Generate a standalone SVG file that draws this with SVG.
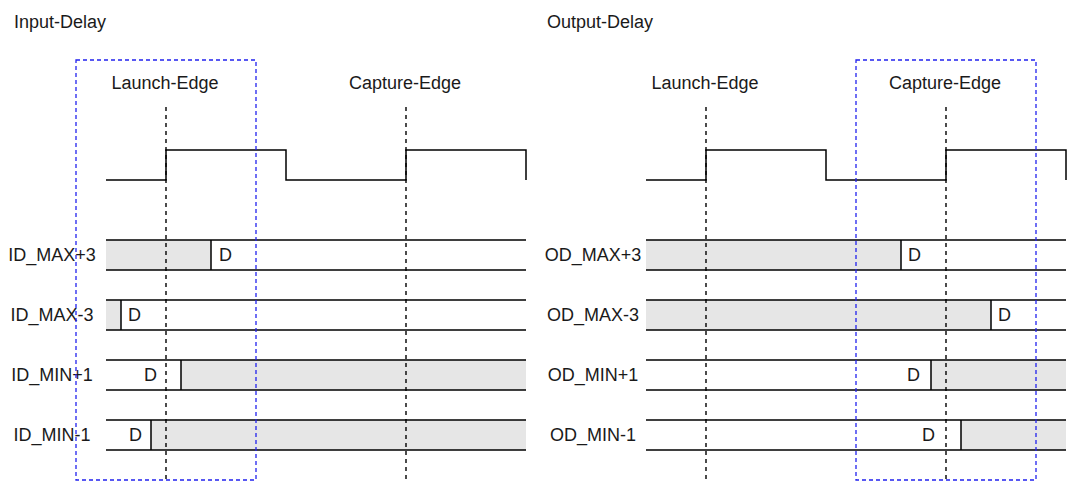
<svg xmlns="http://www.w3.org/2000/svg" width="1068" height="483" viewBox="0 0 1068 483">
<style>
text{font-family:"Liberation Sans",Arial,sans-serif;font-size:18px;fill:#1a1a1a}
.m{text-anchor:middle}
.clk{fill:none;stroke:#000;stroke-width:1.5}
.sig{stroke:#000;stroke-width:1.5}
.g{fill:#e6e6e6;stroke:none}
.edge{stroke:#000;stroke-width:1.4;stroke-dasharray:4 4;fill:none}
.win{fill:none;stroke:#2222ee;stroke-width:1.3;stroke-dasharray:4 3}
</style>
<rect width="1068" height="483" fill="#fff"/>
<g id="titles">
<text x="14" y="28">Input-Delay</text>
<text x="547" y="28">Output-Delay</text>
</g>
<g id="edge-labels">
<text class="m" x="165" y="89">Launch-Edge</text>
<text class="m" x="405" y="89">Capture-Edge</text>
<text class="m" x="705" y="89">Launch-Edge</text>
<text class="m" x="945" y="89">Capture-Edge</text>
</g>
<g id="clock-left"><path class="clk" d="M106 180H166V150H286V180H406V150H526V180"/></g>
<g id="clock-right"><path class="clk" d="M646 180H706V150H826V180H946V150H1066V180"/></g>
<g id="signals-left">
<g id="id-max-p3"><rect class="g" x="106" y="240" width="105" height="30"/><path class="sig" d="M106 240H526M106 270H526M211 240V270"/><text x="219" y="261">D</text><text class="m" x="52" y="261">ID_MAX+3</text></g>
<g id="id-max-m3"><rect class="g" x="106" y="300" width="15" height="30"/><path class="sig" d="M106 300H526M106 330H526M121 300V330"/><text x="128" y="321">D</text><text class="m" x="52" y="321">ID_MAX-3</text></g>
<g id="id-min-p1"><rect class="g" x="181" y="360" width="345" height="30"/><path class="sig" d="M106 360H526M106 390H526M181 360V390"/><text x="144" y="381">D</text><text class="m" x="52" y="381">ID_MIN+1</text></g>
<g id="id-min-m1"><rect class="g" x="151" y="420" width="375" height="30"/><path class="sig" d="M106 420H526M106 450H526M151 420V450"/><text x="129" y="441">D</text><text class="m" x="52" y="441">ID_MIN-1</text></g>
</g>
<g id="signals-right">
<g id="od-max-p3"><rect class="g" x="646" y="240" width="255" height="30"/><path class="sig" d="M646 240H1066M646 270H1066M901 240V270"/><text x="908" y="261">D</text><text class="m" x="593" y="261">OD_MAX+3</text></g>
<g id="od-max-m3"><rect class="g" x="646" y="300" width="345" height="30"/><path class="sig" d="M646 300H1066M646 330H1066M991 300V330"/><text x="998" y="321">D</text><text class="m" x="593" y="321">OD_MAX-3</text></g>
<g id="od-min-p1"><rect class="g" x="931" y="360" width="135" height="30"/><path class="sig" d="M646 360H1066M646 390H1066M931 360V390"/><text x="907" y="381">D</text><text class="m" x="593" y="381">OD_MIN+1</text></g>
<g id="od-min-m1"><rect class="g" x="961" y="420" width="105" height="30"/><path class="sig" d="M646 420H1066M646 450H1066M961 420V450"/><text x="922" y="441">D</text><text class="m" x="593" y="441">OD_MIN-1</text></g>
</g>
<g id="connectors">
<path class="edge" d="M166 107V483M406 107V483M706 107V483M946 107V483"/>
<rect class="win" x="76" y="60" width="180" height="420"/>
<rect class="win" x="856" y="60" width="180" height="420"/>
</g>
</svg>
